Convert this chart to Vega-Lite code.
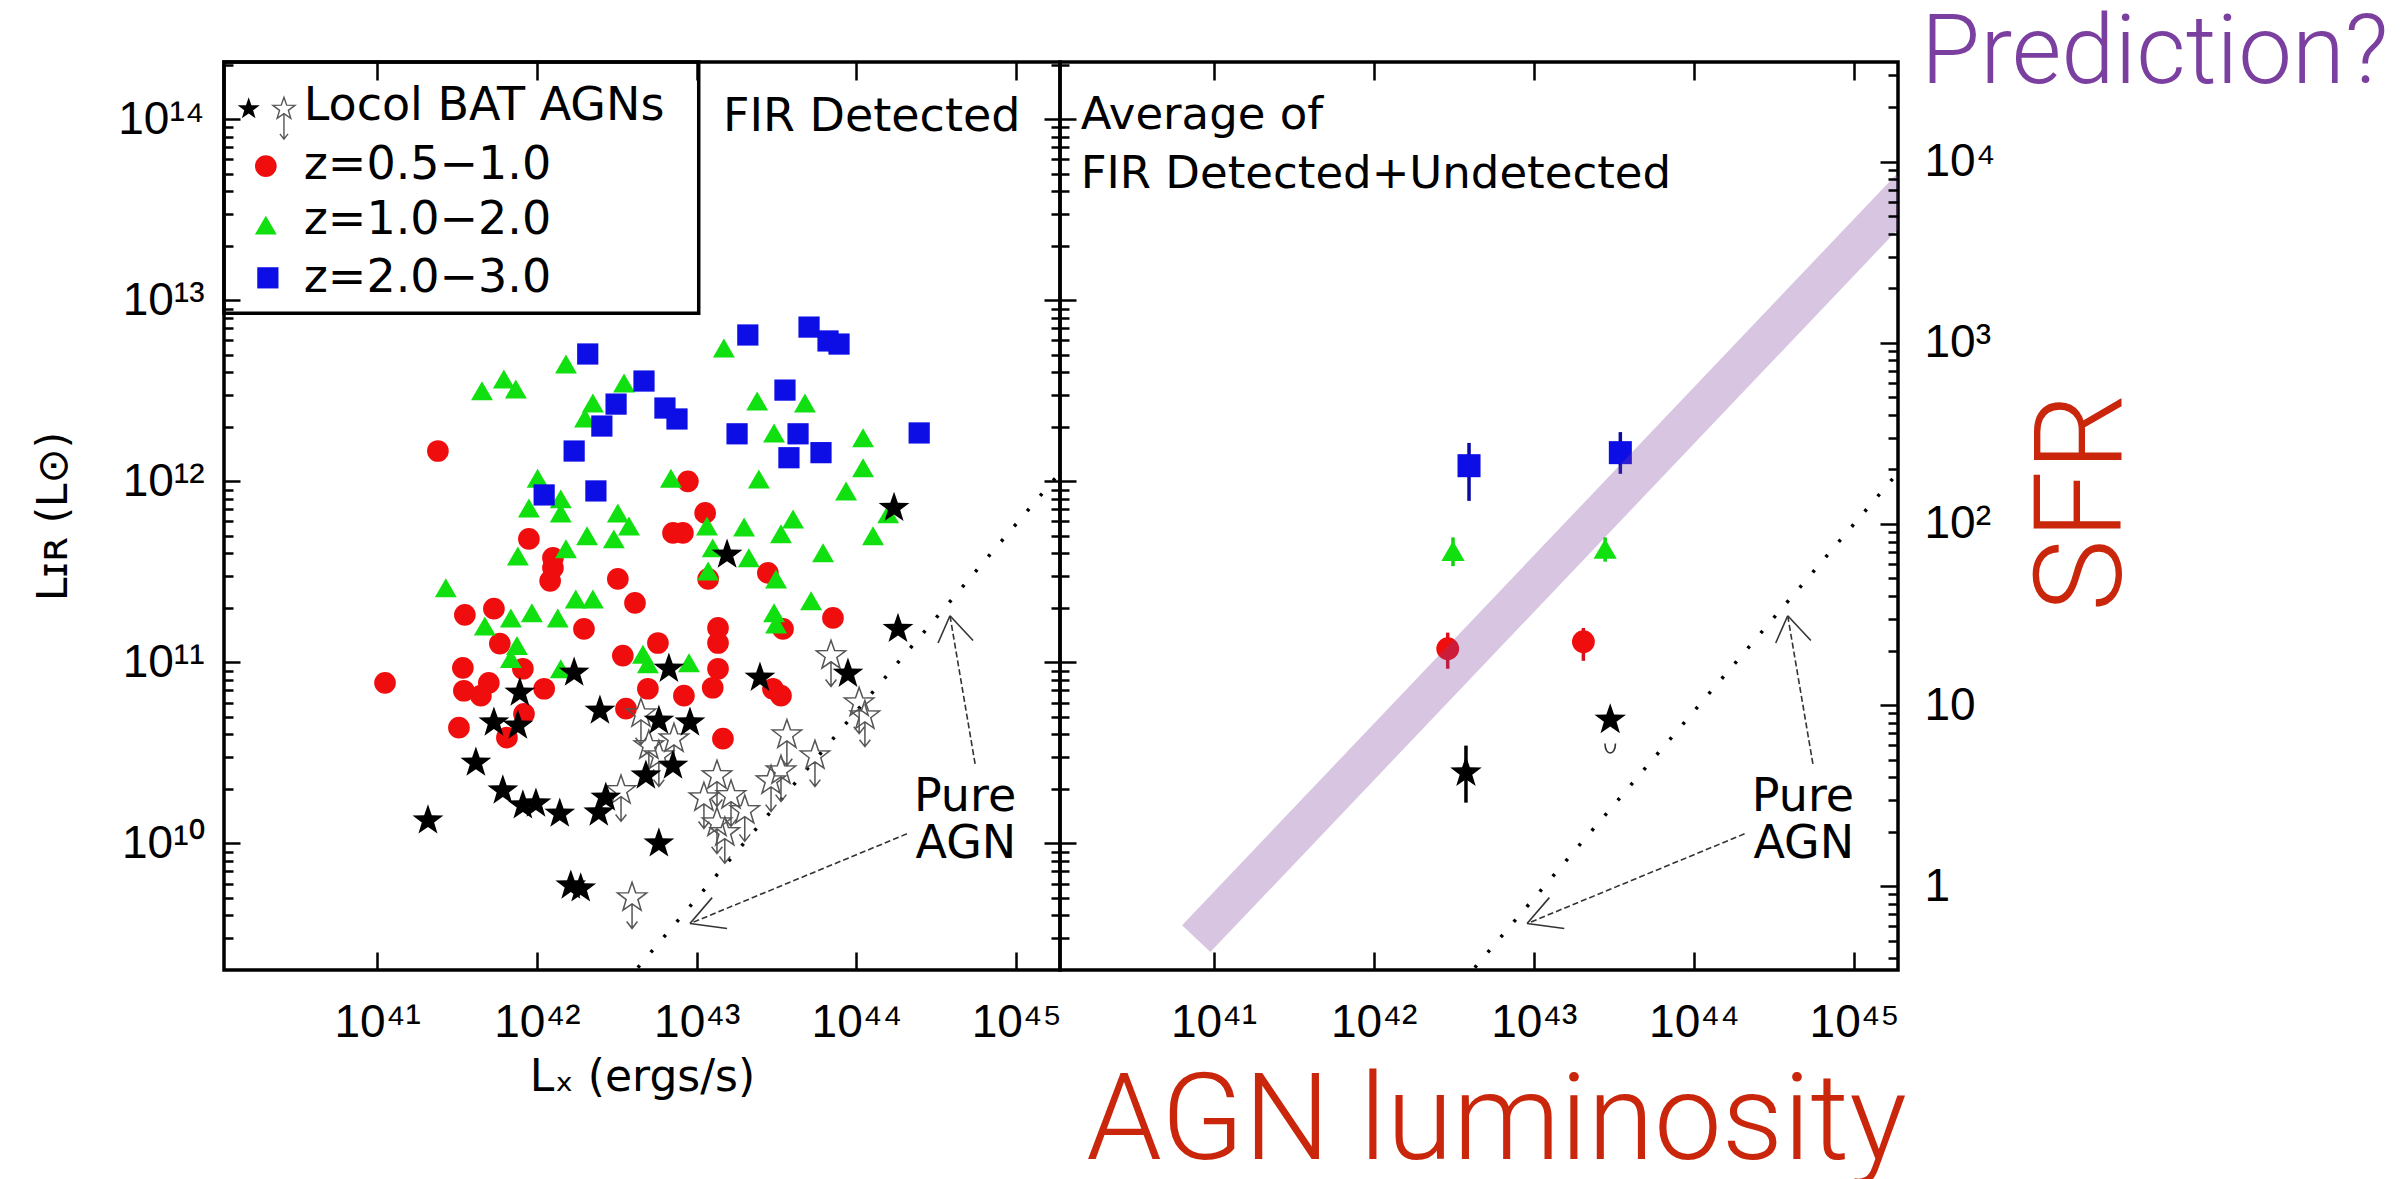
{
  "$schema": "https://vega.github.io/schema/vega-lite/v6.json",
  "background": "white",
  "padding": {"left": 31, "top": 4, "right": 0, "bottom": 0},
  "bounds": "flush",
  "spacing": 0,
  "config": {
    "view": {"stroke": "#000000", "strokeWidth": 3.5},
    "axis": {"domain": false, "grid": false, "tickColor": "#000000", "tickWidth": 2.5, "labelColor": "#000000", "labelFont": "Liberation Sans", "labelFontSize": 46, "titleFont": "DejaVu Sans", "titleFontSize": 44, "titleFontWeight": "normal", "titleColor": "#000000"},
    "text": {"font": "DejaVu Sans", "color": "#000000"},
    "concat": {"spacing": 0}
  },
  "datasets": {
    "pts": [
      {"grp": "z1", "Lx": 2.4e41, "LIR": 1.47e12}, {"grp": "z1", "Lx": 8.81e42, "LIR": 1.0e12}, {"grp": "z1", "Lx": 1.13e43, "LIR": 6.69e11},
      {"grp": "z1", "Lx": 7.11e42, "LIR": 5.19e11}, {"grp": "z1", "Lx": 8.2e42, "LIR": 5.19e11}, {"grp": "z1", "Lx": 8.91e41, "LIR": 4.81e11},
      {"grp": "z1", "Lx": 1.26e42, "LIR": 3.78e11}, {"grp": "z1", "Lx": 1.26e42, "LIR": 3.33e11}, {"grp": "z1", "Lx": 1.21e42, "LIR": 2.82e11},
      {"grp": "z1", "Lx": 3.21e42, "LIR": 2.89e11}, {"grp": "z1", "Lx": 2.79e43, "LIR": 3.12e11}, {"grp": "z1", "Lx": 1.18e43, "LIR": 2.89e11},
      {"grp": "z1", "Lx": 4.11e42, "LIR": 2.13e11}, {"grp": "z1", "Lx": 3.54e41, "LIR": 1.83e11}, {"grp": "z1", "Lx": 5.38e41, "LIR": 1.98e11},
      {"grp": "z1", "Lx": 1.97e42, "LIR": 1.53e11}, {"grp": "z1", "Lx": 5.86e41, "LIR": 1.27e11}, {"grp": "z1", "Lx": 3.44e41, "LIR": 9.33e10},
      {"grp": "z1", "Lx": 8.17e41, "LIR": 9.22e10}, {"grp": "z1", "Lx": 3.45e42, "LIR": 1.09e11}, {"grp": "z1", "Lx": 5.72e42, "LIR": 1.28e11},
      {"grp": "z1", "Lx": 1.12e41, "LIR": 7.71e10}, {"grp": "z1", "Lx": 3.49e41, "LIR": 6.97e10}, {"grp": "z1", "Lx": 4.46e41, "LIR": 6.55e10},
      {"grp": "z1", "Lx": 5.0e41, "LIR": 7.71e10}, {"grp": "z1", "Lx": 1.11e42, "LIR": 7.15e10}, {"grp": "z1", "Lx": 4.95e42, "LIR": 7.15e10},
      {"grp": "z1", "Lx": 3.61e42, "LIR": 5.55e10}, {"grp": "z1", "Lx": 8.3e41, "LIR": 5.2e10}, {"grp": "z1", "Lx": 3.25e41, "LIR": 4.36e10},
      {"grp": "z1", "Lx": 6.49e41, "LIR": 3.84e10}, {"grp": "z1", "Lx": 7.13e43, "LIR": 1.76e11}, {"grp": "z1", "Lx": 3.47e43, "LIR": 1.53e11},
      {"grp": "z1", "Lx": 1.36e43, "LIR": 1.55e11}, {"grp": "z1", "Lx": 1.36e43, "LIR": 1.28e11}, {"grp": "z1", "Lx": 1.36e43, "LIR": 9.22e10},
      {"grp": "z1", "Lx": 1.26e43, "LIR": 7.24e10}, {"grp": "z1", "Lx": 8.32e42, "LIR": 6.55e10}, {"grp": "z1", "Lx": 3.0e43, "LIR": 7.15e10},
      {"grp": "z1", "Lx": 3.37e43, "LIR": 6.55e10}, {"grp": "z1", "Lx": 1.46e43, "LIR": 3.79e10},
      {"grp": "z2", "Lx": 4.53e41, "LIR": 3.16e12}, {"grp": "z2", "Lx": 6.21e41, "LIR": 3.67e12}, {"grp": "z2", "Lx": 7.38e41, "LIR": 3.24e12},
      {"grp": "z2", "Lx": 1.52e42, "LIR": 4.45e12}, {"grp": "z2", "Lx": 2.24e42, "LIR": 2.71e12}, {"grp": "z2", "Lx": 2.0e42, "LIR": 2.24e12},
      {"grp": "z2", "Lx": 3.51e42, "LIR": 3.49e12}, {"grp": "z2", "Lx": 1.48e43, "LIR": 5.45e12}, {"grp": "z2", "Lx": 2.39e43, "LIR": 2.78e12},
      {"grp": "z2", "Lx": 4.76e43, "LIR": 2.71e12}, {"grp": "z2", "Lx": 3.05e43, "LIR": 1.85e12}, {"grp": "z2", "Lx": 1.1e44, "LIR": 1.74e12},
      {"grp": "z2", "Lx": 1.1e44, "LIR": 1.19e12}, {"grp": "z2", "Lx": 8.61e43, "LIR": 8.85e11}, {"grp": "z2", "Lx": 6.9e42, "LIR": 1.04e12},
      {"grp": "z2", "Lx": 1.01e42, "LIR": 1.04e12}, {"grp": "z2", "Lx": 2.45e43, "LIR": 1.03e12}, {"grp": "z2", "Lx": 8.91e41, "LIR": 7.13e11},
      {"grp": "z2", "Lx": 1.41e42, "LIR": 8.0e11}, {"grp": "z2", "Lx": 1.41e42, "LIR": 6.69e11}, {"grp": "z2", "Lx": 3.21e42, "LIR": 6.69e11},
      {"grp": "z2", "Lx": 3.77e42, "LIR": 5.67e11}, {"grp": "z2", "Lx": 2.06e42, "LIR": 5.0e11}, {"grp": "z2", "Lx": 3.03e42, "LIR": 4.81e11},
      {"grp": "z2", "Lx": 7.6e41, "LIR": 3.87e11}, {"grp": "z2", "Lx": 1.52e42, "LIR": 4.24e11}, {"grp": "z2", "Lx": 1.16e43, "LIR": 5.67e11},
      {"grp": "z2", "Lx": 1.98e43, "LIR": 5.6e11}, {"grp": "z2", "Lx": 4.01e43, "LIR": 6.2e11}, {"grp": "z2", "Lx": 3.37e43, "LIR": 5.13e11},
      {"grp": "z2", "Lx": 6.18e43, "LIR": 4.03e11}, {"grp": "z2", "Lx": 1.27e44, "LIR": 5.0e11}, {"grp": "z2", "Lx": 1.58e44, "LIR": 6.61e11},
      {"grp": "z2", "Lx": 1.26e43, "LIR": 4.29e11}, {"grp": "z2", "Lx": 1.18e43, "LIR": 3.2e11}, {"grp": "z2", "Lx": 2.12e43, "LIR": 3.78e11},
      {"grp": "z2", "Lx": 3.14e43, "LIR": 2.89e11}, {"grp": "z2", "Lx": 2.69e41, "LIR": 2.58e11}, {"grp": "z2", "Lx": 4.72e41, "LIR": 1.59e11},
      {"grp": "z2", "Lx": 6.87e41, "LIR": 1.76e11}, {"grp": "z2", "Lx": 9.3e41, "LIR": 1.88e11}, {"grp": "z2", "Lx": 1.35e42, "LIR": 1.76e11},
      {"grp": "z2", "Lx": 1.75e42, "LIR": 2.24e11}, {"grp": "z2", "Lx": 2.24e42, "LIR": 2.24e11}, {"grp": "z2", "Lx": 7.5e41, "LIR": 1.24e11},
      {"grp": "z2", "Lx": 6.87e41, "LIR": 1.05e11}, {"grp": "z2", "Lx": 1.41e42, "LIR": 9.22e10}, {"grp": "z2", "Lx": 4.61e42, "LIR": 1.11e11},
      {"grp": "z2", "Lx": 4.95e42, "LIR": 9.83e10}, {"grp": "z2", "Lx": 3.05e43, "LIR": 1.88e11}, {"grp": "z2", "Lx": 5.2e43, "LIR": 2.19e11},
      {"grp": "z2", "Lx": 3.14e43, "LIR": 1.63e11}, {"grp": "z2", "Lx": 8.95e42, "LIR": 9.95e10},
      {"grp": "z3", "Lx": 2.08e42, "LIR": 5.05e12}, {"grp": "z3", "Lx": 4.68e42, "LIR": 3.58e12}, {"grp": "z3", "Lx": 3.13e42, "LIR": 2.67e12},
      {"grp": "z3", "Lx": 2.55e42, "LIR": 2.02e12}, {"grp": "z3", "Lx": 1.71e42, "LIR": 1.47e12}, {"grp": "z3", "Lx": 1.11e42, "LIR": 8.41e11},
      {"grp": "z3", "Lx": 2.34e42, "LIR": 8.85e11}, {"grp": "z3", "Lx": 6.33e42, "LIR": 2.54e12}, {"grp": "z3", "Lx": 7.53e42, "LIR": 2.21e12},
      {"grp": "z3", "Lx": 2.09e43, "LIR": 6.43e12}, {"grp": "z3", "Lx": 5.05e43, "LIR": 7.11e12}, {"grp": "z3", "Lx": 6.64e43, "LIR": 5.96e12},
      {"grp": "z3", "Lx": 7.78e43, "LIR": 5.73e12}, {"grp": "z3", "Lx": 3.57e43, "LIR": 3.19e12}, {"grp": "z3", "Lx": 1.79e43, "LIR": 1.83e12},
      {"grp": "z3", "Lx": 4.31e43, "LIR": 1.83e12}, {"grp": "z3", "Lx": 3.78e43, "LIR": 1.35e12}, {"grp": "z3", "Lx": 6.0e43, "LIR": 1.44e12},
      {"grp": "z3", "Lx": 2.47e44, "LIR": 1.85e12},
      {"grp": "bat", "Lx": 1.72e44, "LIR": 7.13e11}, {"grp": "bat", "Lx": 1.55e43, "LIR": 3.93e11}, {"grp": "bat", "Lx": 1.71e42, "LIR": 8.77e10},
      {"grp": "bat", "Lx": 7.82e41, "LIR": 6.8e10}, {"grp": "bat", "Lx": 5.38e41, "LIR": 4.65e10}, {"grp": "bat", "Lx": 7.6e41, "LIR": 4.47e10},
      {"grp": "bat", "Lx": 2.48e42, "LIR": 5.41e10}, {"grp": "bat", "Lx": 4.15e41, "LIR": 2.79e10}, {"grp": "bat", "Lx": 6.12e41, "LIR": 1.96e10},
      {"grp": "bat", "Lx": 8.17e41, "LIR": 1.62e10}, {"grp": "bat", "Lx": 9.86e41, "LIR": 1.66e10}, {"grp": "bat", "Lx": 1.39e42, "LIR": 1.46e10},
      {"grp": "bat", "Lx": 2.44e42, "LIR": 1.48e10}, {"grp": "bat", "Lx": 2.7e42, "LIR": 1.79e10}, {"grp": "bat", "Lx": 4.81e42, "LIR": 2.37e10},
      {"grp": "bat", "Lx": 7.11e42, "LIR": 2.69e10}, {"grp": "bat", "Lx": 5.8e42, "LIR": 1.0e10}, {"grp": "bat", "Lx": 2.08e41, "LIR": 1.34e10},
      {"grp": "bat", "Lx": 1.63e42, "LIR": 5.85e9}, {"grp": "bat", "Lx": 1.88e42, "LIR": 5.64e9}, {"grp": "bat", "Lx": 6.7e42, "LIR": 9.22e10},
      {"grp": "bat", "Lx": 2.49e43, "LIR": 8.22e10}, {"grp": "bat", "Lx": 8.85e43, "LIR": 8.65e10}, {"grp": "bat", "Lx": 1.82e44, "LIR": 1.53e11},
      {"grp": "bat", "Lx": 5.8e42, "LIR": 4.76e10}, {"grp": "bat", "Lx": 9.08e42, "LIR": 4.65e10},
      {"grp": "batul", "Lx": 3.94e42, "LIR": 5.02e9}, {"grp": "batul", "Lx": 5.02e42, "LIR": 3.47e10}, {"grp": "batul", "Lx": 5.8e42, "LIR": 3.05e10},
      {"grp": "batul", "Lx": 3.36e42, "LIR": 1.96e10}, {"grp": "batul", "Lx": 7.21e42, "LIR": 3.79e10}, {"grp": "batul", "Lx": 1.34e43, "LIR": 2.37e10},
      {"grp": "batul", "Lx": 1.11e43, "LIR": 1.79e10}, {"grp": "batul", "Lx": 1.64e43, "LIR": 1.84e10}, {"grp": "batul", "Lx": 1.34e43, "LIR": 1.3e10},
      {"grp": "batul", "Lx": 2.0e43, "LIR": 1.52e10}, {"grp": "batul", "Lx": 1.5e43, "LIR": 1.15e10}, {"grp": "batul", "Lx": 3.67e43, "LIR": 3.98e10},
      {"grp": "batul", "Lx": 5.5e43, "LIR": 3.05e10}, {"grp": "batul", "Lx": 3.37e43, "LIR": 2.52e10}, {"grp": "batul", "Lx": 2.92e43, "LIR": 2.22e10},
      {"grp": "batul", "Lx": 6.93e43, "LIR": 1.09e11}, {"grp": "batul", "Lx": 1.04e44, "LIR": 5.98e10}, {"grp": "batul", "Lx": 1.13e44, "LIR": 5.07e10},
      {"grp": "batul", "Lx": 4.48e42, "LIR": 5.2e10}
    ],
    "avg": [
      {"grp": "z3", "Lx": 3.94e42, "LIR": 1.22e12, "lo": 7.8e11, "hi": 1.63e12},
      {"grp": "z3", "Lx": 3.47e43, "LIR": 1.44e12, "lo": 1.1e12, "hi": 1.87e12},
      {"grp": "z2", "Lx": 3.13e42, "LIR": 4.13e11, "lo": 3.4e11, "hi": 4.9e11},
      {"grp": "z2", "Lx": 2.79e43, "LIR": 4.24e11, "lo": 3.6e11, "hi": 4.9e11},
      {"grp": "z1", "Lx": 2.9e42, "LIR": 1.19e11, "lo": 9.22e10, "hi": 1.46e11},
      {"grp": "z1", "Lx": 2.04e43, "LIR": 1.3e11, "lo": 1.02e11, "hi": 1.55e11},
      {"grp": "bat", "Lx": 3.77e42, "LIR": 2.46e10, "lo": 1.68e10, "hi": 3.47e10},
      {"grp": "bat", "Lx": 3.0e43, "LIR": 4.82e10}
    ],
    "ul": [{"Lx": 3.0e43, "LIR": 3.33e10}],
    "pure": [{"Lx": 3.55e42, "LIR": 1.70e9}, {"Lx": 2.24e45, "LIR": 1.34e12}],
    "band": [{"Lx": 7.8e40, "LIR": 2.98e9}, {"Lx": 2.24e45, "LIR": 4.16e13}],
    "arrows": [
      {"part": "shaft", "Lx": 5.53e44, "LIR": 2.75e10, "Lx2": 3.85e44, "LIR2": 1.81e11},
      {"part": "head", "Lx": 3.85e44, "LIR": 1.81e11, "Lx2": 3.24e44, "LIR2": 1.28e11},
      {"part": "head", "Lx": 3.85e44, "LIR": 1.81e11, "Lx2": 5.37e44, "LIR2": 1.32e11},
      {"part": "shaft", "Lx": 2.07e44, "LIR": 1.13e10, "Lx2": 9.08e42, "LIR2": 3.61e9},
      {"part": "head", "Lx": 9.08e42, "LIR": 3.61e9, "Lx2": 1.55e43, "LIR2": 3.39e9},
      {"part": "head", "Lx": 9.08e42, "LIR": 3.61e9, "Lx2": 1.25e43, "LIR2": 5.02e9}
    ],
    "pureText": [{"t": "Pure", "Lx": 1e45, "LIR": 1.52e10}, {"t": "AGN", "Lx": 1e45, "LIR": 8.36e9}],
    "legendBox": [{"Lx": 1.1e40, "LIR": 8.49e12, "Lx2": 1.03e43, "LIR2": 2.07e14}],
    "legendSym": [
      {"grp": "bat", "Lx": 1.57e40, "LIR": 1.14e14}, {"grp": "batul", "Lx": 2.61e40, "LIR": 1.14e14},
      {"grp": "z1", "Lx": 2.01e40, "LIR": 5.51e13}, {"grp": "z2", "Lx": 2.01e40, "LIR": 2.6e13}, {"grp": "z3", "Lx": 2.07e40, "LIR": 1.33e13}
    ],
    "leftNotes": [
      {"t": "Locol BAT AGNs", "Lx": 3.47e40, "LIR": 9.87e13}, {"t": "z=0.5−1.0", "Lx": 3.47e40, "LIR": 4.67e13},
      {"t": "z=1.0−2.0", "Lx": 3.47e40, "LIR": 2.32e13}, {"t": "z=2.0−3.0", "Lx": 3.47e40, "LIR": 1.11e13},
      {"t": "FIR Detected", "Lx": 1.46e43, "LIR": 8.59e13}
    ],
    "rightNotes": [
      {"t": "Average of", "Lx": 1.48e40, "LIR": 8.81e13}, {"t": "FIR Detected+Undetected", "Lx": 1.48e40, "LIR": 4.16e13}
    ],
    "pred": [{"t": "Prediction?", "Lx": 2.62e45, "LIR": 1.58e14}]
  },
  "hconcat": [
    {
      "width": 836,
      "height": 908,
      "resolve": {"axis": {"x": "independent", "y": "independent"}},
      "layer": [
        {
          "data": {"name": "pure"},
          "mark": {"type": "line", "color": "#000000", "strokeWidth": 3.5, "strokeDash": [3, 17], "clip": true},
          "encoding": {
            "x": {"field": "Lx", "type": "quantitative", "scale": {"type": "log", "domain": [1.1e40, 1.88e45]},
                  "axis": {"orient": "bottom", "values": [1e41, 1e42, 1e43, 1e44, 1e45], "ticks": false, "labelPadding": 66, "labelBaseline": "alphabetic", "labelFlush": false, "labelOverlap": false,
                           "labelExpr": "datum.value < 3e41 ? '10⁴¹' : datum.value < 3e42 ? '10⁴²' : datum.value < 3e43 ? '10⁴³' : datum.value < 3e44 ? '10⁴⁴' : '10⁴⁵'",
                           "title": "Lₓ (ergs/s)", "titlePadding": 10}},
            "y": {"field": "LIR", "type": "quantitative", "scale": {"type": "log", "domain": [2.0e9, 2.07e14]},
                  "axis": {"orient": "left", "values": [1e10, 1e11, 1e12, 1e13, 1e14], "ticks": false, "labelPadding": 20, "labelFlush": false, "labelOverlap": false,
                           "labelExpr": "datum.value < 3e10 ? '10¹⁰' : datum.value < 3e11 ? '10¹¹' : datum.value < 3e12 ? '10¹²' : datum.value < 3e13 ? '10¹³' : '10¹⁴'",
                           "title": "Lɪʀ (L⊙)", "titleFontSize": 42, "titlePadding": 42}}
          }
        },
        {
          "data": {"name": "arrows"},
          "transform": [{"filter": "datum.part == 'shaft'"}],
          "mark": {"type": "rule", "color": "#333333", "strokeWidth": 1.6, "strokeDash": [6, 3]},
          "encoding": {
            "x": {"field": "Lx", "type": "quantitative", "scale": {"type": "log", "domain": [1.1e40, 1.88e45]},
                  "axis": {"orient": "bottom", "values": [1e41, 1e42, 1e43, 1e44, 1e45], "labels": false, "tickSize": -18, "title": null, "zindex": 1}},
            "y": {"field": "LIR", "type": "quantitative", "scale": {"type": "log", "domain": [2.0e9, 2.07e14]},
                  "axis": {"orient": "left", "values": [1e10, 1e11, 1e12, 1e13, 1e14], "labels": false, "tickSize": -16, "title": null, "zindex": 1}},
            "x2": {"field": "Lx2"},
            "y2": {"field": "LIR2"}
          }
        },
        {
          "data": {"name": "arrows"},
          "transform": [{"filter": "datum.part == 'head'"}],
          "mark": {"type": "rule", "color": "#333333", "strokeWidth": 1.6},
          "encoding": {
            "x": {"field": "Lx", "type": "quantitative", "scale": {"type": "log", "domain": [1.1e40, 1.88e45]},
                  "axis": {"orient": "top", "values": [1e41, 1e42, 1e43, 1e44, 1e45], "labels": false, "tickSize": -18, "title": null, "zindex": 1}},
            "y": {"field": "LIR", "type": "quantitative", "scale": {"type": "log", "domain": [2.0e9, 2.07e14]},
                  "axis": {"orient": "left", "values": [3e9, 4e9, 5e9, 6e9, 7e9, 8e9, 9e9, 2e10, 3e10, 4e10, 5e10, 6e10, 7e10, 8e10, 9e10, 2e11, 3e11, 4e11, 5e11, 6e11, 7e11, 8e11, 9e11, 2e12, 3e12, 4e12, 5e12, 6e12, 7e12, 8e12, 9e12, 2e13, 3e13, 4e13, 5e13, 6e13, 7e13, 8e13, 9e13, 2e14], "labels": false, "tickSize": -9, "title": null, "zindex": 1}},
            "x2": {"field": "Lx2"},
            "y2": {"field": "LIR2"}
          }
        },
        {
          "data": {"name": "pureText"},
          "mark": {"type": "text", "align": "right", "baseline": "alphabetic", "fontSize": 46},
          "encoding": {
            "x": {"field": "Lx", "type": "quantitative", "scale": {"type": "log", "domain": [1.1e40, 1.88e45]}, "axis": null},
            "y": {"field": "LIR", "type": "quantitative", "scale": {"type": "log", "domain": [2.0e9, 2.07e14]},
                  "axis": {"orient": "right", "values": [1e10, 1e11, 1e12, 1e13, 1e14], "labels": false, "tickSize": -16, "title": null, "zindex": 1}},
            "text": {"field": "t"}
          }
        },
        {
          "data": {"name": "legendBox"},
          "mark": {"type": "rect", "filled": false, "color": "#000000", "strokeWidth": 3.5},
          "encoding": {
            "x": {"field": "Lx", "type": "quantitative", "scale": {"type": "log", "domain": [1.1e40, 1.88e45]}, "axis": null},
            "y": {"field": "LIR", "type": "quantitative", "scale": {"type": "log", "domain": [2.0e9, 2.07e14]},
                  "axis": {"orient": "right", "values": [3e9, 4e9, 5e9, 6e9, 7e9, 8e9, 9e9, 2e10, 3e10, 4e10, 5e10, 6e10, 7e10, 8e10, 9e10, 2e11, 3e11, 4e11, 5e11, 6e11, 7e11, 8e11, 9e11, 2e12, 3e12, 4e12, 5e12, 6e12, 7e12, 8e12, 9e12, 2e13, 3e13, 4e13, 5e13, 6e13, 7e13, 8e13, 9e13, 2e14], "labels": false, "tickSize": -9, "title": null, "zindex": 1}},
            "x2": {"field": "Lx2"},
            "y2": {"field": "LIR2"}
          }
        },
        {
          "data": {"name": "pts"},
          "transform": [{"filter": "datum.grp == 'z1'"}],
          "mark": {"type": "point", "shape": "circle", "filled": true, "color": "#f00d0d", "size": 470, "opacity": 1},
          "encoding": {
            "x": {"field": "Lx", "type": "quantitative", "scale": {"type": "log", "domain": [1.1e40, 1.88e45]}, "axis": null},
            "y": {"field": "LIR", "type": "quantitative", "scale": {"type": "log", "domain": [2.0e9, 2.07e14]}, "axis": null}
          }
        },
        {
          "data": {"name": "pts"},
          "transform": [{"filter": "datum.grp == 'z2'"}],
          "mark": {"type": "point", "shape": "triangle-up", "filled": true, "color": "#10e010", "size": 480, "opacity": 1},
          "encoding": {
            "x": {"field": "Lx", "type": "quantitative", "scale": {"type": "log", "domain": [1.1e40, 1.88e45]}, "axis": null},
            "y": {"field": "LIR", "type": "quantitative", "scale": {"type": "log", "domain": [2.0e9, 2.07e14]}, "axis": null}
          }
        },
        {
          "data": {"name": "pts"},
          "transform": [{"filter": "datum.grp == 'z3'"}],
          "mark": {"type": "point", "shape": "square", "filled": true, "color": "#0d0de6", "size": 450, "opacity": 1},
          "encoding": {
            "x": {"field": "Lx", "type": "quantitative", "scale": {"type": "log", "domain": [1.1e40, 1.88e45]}, "axis": null},
            "y": {"field": "LIR", "type": "quantitative", "scale": {"type": "log", "domain": [2.0e9, 2.07e14]}, "axis": null}
          }
        },
        {
          "data": {"name": "pts"},
          "transform": [{"filter": "datum.grp == 'batul'"}],
          "mark": {"type": "point", "shape": "M0,-1L0.235,-0.324L0.951,-0.309L0.38,0.124L0.588,0.809L0,0.4L-0.588,0.809L-0.38,0.124L-0.951,-0.309L-0.235,-0.324ZM0,0.4L0,2M-0.35,1.55L0,2L0.35,1.55", "filled": false, "color": "#555555", "strokeWidth": 1.5, "size": 950, "opacity": 1},
          "encoding": {
            "x": {"field": "Lx", "type": "quantitative", "scale": {"type": "log", "domain": [1.1e40, 1.88e45]}, "axis": null},
            "y": {"field": "LIR", "type": "quantitative", "scale": {"type": "log", "domain": [2.0e9, 2.07e14]}, "axis": null}
          }
        },
        {
          "data": {"name": "pts"},
          "transform": [{"filter": "datum.grp == 'bat'"}],
          "mark": {"type": "point", "shape": "M0,-1L0.235,-0.324L0.951,-0.309L0.38,0.124L0.588,0.809L0,0.4L-0.588,0.809L-0.38,0.124L-0.951,-0.309L-0.235,-0.324Z", "filled": true, "color": "#000000", "size": 1050, "opacity": 1},
          "encoding": {
            "x": {"field": "Lx", "type": "quantitative", "scale": {"type": "log", "domain": [1.1e40, 1.88e45]}, "axis": null},
            "y": {"field": "LIR", "type": "quantitative", "scale": {"type": "log", "domain": [2.0e9, 2.07e14]}, "axis": null}
          }
        },
        {
          "data": {"name": "legendSym"},
          "transform": [{"filter": "datum.grp == 'bat'"}],
          "mark": {"type": "point", "shape": "M0,-1L0.235,-0.324L0.951,-0.309L0.38,0.124L0.588,0.809L0,0.4L-0.588,0.809L-0.38,0.124L-0.951,-0.309L-0.235,-0.324Z", "filled": true, "color": "#000000", "size": 540, "opacity": 1},
          "encoding": {
            "x": {"field": "Lx", "type": "quantitative", "scale": {"type": "log", "domain": [1.1e40, 1.88e45]}, "axis": null},
            "y": {"field": "LIR", "type": "quantitative", "scale": {"type": "log", "domain": [2.0e9, 2.07e14]}, "axis": null}
          }
        },
        {
          "data": {"name": "legendSym"},
          "transform": [{"filter": "datum.grp == 'batul'"}],
          "mark": {"type": "point", "shape": "M0,-1L0.235,-0.324L0.951,-0.309L0.38,0.124L0.588,0.809L0,0.4L-0.588,0.809L-0.38,0.124L-0.951,-0.309L-0.235,-0.324ZM0,0.4L0,2.6M-0.35,2.15L0,2.6L0.35,2.15", "filled": false, "color": "#555555", "strokeWidth": 1.4, "size": 540, "opacity": 1},
          "encoding": {
            "x": {"field": "Lx", "type": "quantitative", "scale": {"type": "log", "domain": [1.1e40, 1.88e45]}, "axis": null},
            "y": {"field": "LIR", "type": "quantitative", "scale": {"type": "log", "domain": [2.0e9, 2.07e14]}, "axis": null}
          }
        },
        {
          "data": {"name": "legendSym"},
          "transform": [{"filter": "datum.grp == 'z1'"}],
          "mark": {"type": "point", "shape": "circle", "filled": true, "color": "#f00d0d", "size": 470, "opacity": 1},
          "encoding": {
            "x": {"field": "Lx", "type": "quantitative", "scale": {"type": "log", "domain": [1.1e40, 1.88e45]}, "axis": null},
            "y": {"field": "LIR", "type": "quantitative", "scale": {"type": "log", "domain": [2.0e9, 2.07e14]}, "axis": null}
          }
        },
        {
          "data": {"name": "legendSym"},
          "transform": [{"filter": "datum.grp == 'z2'"}],
          "mark": {"type": "point", "shape": "triangle-up", "filled": true, "color": "#10e010", "size": 480, "opacity": 1},
          "encoding": {
            "x": {"field": "Lx", "type": "quantitative", "scale": {"type": "log", "domain": [1.1e40, 1.88e45]}, "axis": null},
            "y": {"field": "LIR", "type": "quantitative", "scale": {"type": "log", "domain": [2.0e9, 2.07e14]}, "axis": null}
          }
        },
        {
          "data": {"name": "legendSym"},
          "transform": [{"filter": "datum.grp == 'z3'"}],
          "mark": {"type": "point", "shape": "square", "filled": true, "color": "#0d0de6", "size": 450, "opacity": 1},
          "encoding": {
            "x": {"field": "Lx", "type": "quantitative", "scale": {"type": "log", "domain": [1.1e40, 1.88e45]}, "axis": null},
            "y": {"field": "LIR", "type": "quantitative", "scale": {"type": "log", "domain": [2.0e9, 2.07e14]}, "axis": null}
          }
        },
        {
          "data": {"name": "leftNotes"},
          "mark": {"type": "text", "align": "left", "baseline": "alphabetic", "fontSize": 46},
          "encoding": {
            "x": {"field": "Lx", "type": "quantitative", "scale": {"type": "log", "domain": [1.1e40, 1.88e45]}, "axis": null},
            "y": {"field": "LIR", "type": "quantitative", "scale": {"type": "log", "domain": [2.0e9, 2.07e14]}, "axis": null},
            "text": {"field": "t"}
          }
        }
      ]
    },
    {
      "width": 838,
      "height": 908,
      "resolve": {"axis": {"x": "independent", "y": "independent"}},
      "layer": [
        {
          "data": {"name": "pure"},
          "mark": {"type": "line", "color": "#000000", "strokeWidth": 3.5, "strokeDash": [3, 17], "clip": true},
          "encoding": {
            "x": {"field": "Lx", "type": "quantitative", "scale": {"type": "log", "domain": [1.1e40, 1.88e45]},
                  "axis": {"orient": "bottom", "values": [1e41, 1e42, 1e43, 1e44, 1e45], "ticks": false, "labelPadding": 66, "labelBaseline": "alphabetic", "labelFlush": false, "labelOverlap": false,
                           "labelExpr": "datum.value < 3e41 ? '10⁴¹' : datum.value < 3e42 ? '10⁴²' : datum.value < 3e43 ? '10⁴³' : datum.value < 3e44 ? '10⁴⁴' : '10⁴⁵'",
                           "title": "AGN luminosity", "titleFont": "Roboto", "titleFontSize": 121, "titleFontWeight": 300, "titleColor": "#c9260c", "titlePadding": 17, "titleX": 436}},
            "y": {"field": "LIR", "type": "quantitative", "scale": {"type": "log", "domain": [2.0e9, 2.07e14]},
                  "axis": {"orient": "left", "values": [1e10, 1e11, 1e12, 1e13, 1e14], "labels": false, "tickSize": -16, "title": null, "zindex": 1}}
          }
        },
        {
          "data": {"name": "arrows"},
          "transform": [{"filter": "datum.part == 'shaft'"}],
          "mark": {"type": "rule", "color": "#333333", "strokeWidth": 1.6, "strokeDash": [6, 3]},
          "encoding": {
            "x": {"field": "Lx", "type": "quantitative", "scale": {"type": "log", "domain": [1.1e40, 1.88e45]},
                  "axis": {"orient": "bottom", "values": [1e41, 1e42, 1e43, 1e44, 1e45], "labels": false, "tickSize": -18, "title": null, "zindex": 1}},
            "y": {"field": "LIR", "type": "quantitative", "scale": {"type": "log", "domain": [2.0e9, 2.07e14]},
                  "axis": {"orient": "left", "values": [3e9, 4e9, 5e9, 6e9, 7e9, 8e9, 9e9, 2e10, 3e10, 4e10, 5e10, 6e10, 7e10, 8e10, 9e10, 2e11, 3e11, 4e11, 5e11, 6e11, 7e11, 8e11, 9e11, 2e12, 3e12, 4e12, 5e12, 6e12, 7e12, 8e12, 9e12, 2e13, 3e13, 4e13, 5e13, 6e13, 7e13, 8e13, 9e13, 2e14], "labels": false, "tickSize": -9, "title": null, "zindex": 1}},
            "x2": {"field": "Lx2"},
            "y2": {"field": "LIR2"}
          }
        },
        {
          "data": {"name": "arrows"},
          "transform": [{"filter": "datum.part == 'head'"}],
          "mark": {"type": "rule", "color": "#333333", "strokeWidth": 1.6},
          "encoding": {
            "x": {"field": "Lx", "type": "quantitative", "scale": {"type": "log", "domain": [1.1e40, 1.88e45]},
                  "axis": {"orient": "top", "values": [1e41, 1e42, 1e43, 1e44, 1e45], "labels": false, "tickSize": -18, "title": null, "zindex": 1}},
            "y": {"field": "LIR", "type": "quantitative", "scale": {"type": "log", "domain": [2.0e9, 2.07e14]},
                  "axis": {"orient": "right", "values": [5.814e9, 5.814e10, 5.814e11, 5.814e12, 5.814e13], "ticks": false, "labelPadding": 26, "labelFlush": false, "labelOverlap": false,
                           "labelExpr": "datum.value < 3e10 ? '1' : datum.value < 3e11 ? '10' : datum.value < 3e12 ? '10²' : datum.value < 3e13 ? '10³' : '10⁴'",
                           "title": "SFR", "titleAngle": 270, "titleBaseline": "top", "titleFont": "Roboto", "titleFontSize": 122, "titleFontWeight": 300, "titleColor": "#c9260c", "titlePadding": 30, "titleY": 440}},
            "x2": {"field": "Lx2"},
            "y2": {"field": "LIR2"}
          }
        },
        {
          "data": {"name": "pureText"},
          "mark": {"type": "text", "align": "right", "baseline": "alphabetic", "fontSize": 46},
          "encoding": {
            "x": {"field": "Lx", "type": "quantitative", "scale": {"type": "log", "domain": [1.1e40, 1.88e45]}, "axis": null},
            "y": {"field": "LIR", "type": "quantitative", "scale": {"type": "log", "domain": [2.0e9, 2.07e14]},
                  "axis": {"orient": "right", "values": [5.814e9, 5.814e10, 5.814e11, 5.814e12, 5.814e13], "labels": false, "tickSize": -18, "title": null, "zindex": 1}},
            "text": {"field": "t"}
          }
        },
        {
          "data": {"name": "avg"},
          "transform": [{"filter": "isValid(datum.lo)"}],
          "mark": {"type": "rule", "strokeWidth": 3.5},
          "encoding": {
            "x": {"field": "Lx", "type": "quantitative", "scale": {"type": "log", "domain": [1.1e40, 1.88e45]}, "axis": null},
            "y": {"field": "lo", "type": "quantitative", "scale": {"type": "log", "domain": [2.0e9, 2.07e14]},
                  "axis": {"orient": "right", "values": [2.326e9, 2.907e9, 3.488e9, 4.07e9, 4.651e9, 5.233e9, 1.163e10, 1.744e10, 2.326e10, 2.907e10, 3.488e10, 4.07e10, 4.651e10, 5.233e10, 1.163e11, 1.744e11, 2.326e11, 2.907e11, 3.488e11, 4.07e11, 4.651e11, 5.233e11, 1.163e12, 1.744e12, 2.326e12, 2.907e12, 3.488e12, 4.07e12, 4.651e12, 5.233e12, 1.163e13, 1.744e13, 2.326e13, 2.907e13, 3.488e13, 4.07e13, 4.651e13, 5.233e13, 1.163e14, 1.744e14], "labels": false, "tickSize": -10, "title": null, "zindex": 1}},
            "y2": {"field": "hi"},
            "color": {"field": "grp", "type": "nominal", "scale": {"domain": ["z3", "z2", "z1", "bat"], "range": ["#0a0aa0", "#10d010", "#d81020", "#000000"]}, "legend": null}
          }
        },
        {
          "data": {"name": "avg"},
          "transform": [{"filter": "datum.grp == 'z1'"}],
          "mark": {"type": "point", "shape": "circle", "filled": true, "color": "#f00d0d", "size": 520, "opacity": 1},
          "encoding": {
            "x": {"field": "Lx", "type": "quantitative", "scale": {"type": "log", "domain": [1.1e40, 1.88e45]}, "axis": null},
            "y": {"field": "LIR", "type": "quantitative", "scale": {"type": "log", "domain": [2.0e9, 2.07e14]}, "axis": null}
          }
        },
        {
          "data": {"name": "avg"},
          "transform": [{"filter": "datum.grp == 'z2'"}],
          "mark": {"type": "point", "shape": "triangle-up", "filled": true, "color": "#10e010", "size": 540, "opacity": 1},
          "encoding": {
            "x": {"field": "Lx", "type": "quantitative", "scale": {"type": "log", "domain": [1.1e40, 1.88e45]}, "axis": null},
            "y": {"field": "LIR", "type": "quantitative", "scale": {"type": "log", "domain": [2.0e9, 2.07e14]}, "axis": null}
          }
        },
        {
          "data": {"name": "avg"},
          "transform": [{"filter": "datum.grp == 'z3'"}],
          "mark": {"type": "point", "shape": "square", "filled": true, "color": "#0d0de6", "size": 530, "opacity": 1},
          "encoding": {
            "x": {"field": "Lx", "type": "quantitative", "scale": {"type": "log", "domain": [1.1e40, 1.88e45]}, "axis": null},
            "y": {"field": "LIR", "type": "quantitative", "scale": {"type": "log", "domain": [2.0e9, 2.07e14]}, "axis": null}
          }
        },
        {
          "data": {"name": "avg"},
          "transform": [{"filter": "datum.grp == 'bat'"}],
          "mark": {"type": "point", "shape": "M0,-1L0.235,-0.324L0.951,-0.309L0.38,0.124L0.588,0.809L0,0.4L-0.588,0.809L-0.38,0.124L-0.951,-0.309L-0.235,-0.324Z", "filled": true, "color": "#000000", "size": 1100, "opacity": 1},
          "encoding": {
            "x": {"field": "Lx", "type": "quantitative", "scale": {"type": "log", "domain": [1.1e40, 1.88e45]}, "axis": null},
            "y": {"field": "LIR", "type": "quantitative", "scale": {"type": "log", "domain": [2.0e9, 2.07e14]}, "axis": null}
          }
        },
        {
          "data": {"name": "ul"},
          "mark": {"type": "point", "shape": "M-1,-1C-1,1.4 1,1.4 1,-1", "filled": false, "color": "#333333", "strokeWidth": 1.6, "size": 110, "opacity": 1},
          "encoding": {
            "x": {"field": "Lx", "type": "quantitative", "scale": {"type": "log", "domain": [1.1e40, 1.88e45]}, "axis": null},
            "y": {"field": "LIR", "type": "quantitative", "scale": {"type": "log", "domain": [2.0e9, 2.07e14]}, "axis": null}
          }
        },
        {
          "data": {"name": "band"},
          "mark": {"type": "line", "color": "#7b3fa0", "opacity": 0.3, "strokeWidth": 39, "strokeCap": "butt", "clip": true},
          "encoding": {
            "x": {"field": "Lx", "type": "quantitative", "scale": {"type": "log", "domain": [1.1e40, 1.88e45]}, "axis": null},
            "y": {"field": "LIR", "type": "quantitative", "scale": {"type": "log", "domain": [2.0e9, 2.07e14]}, "axis": null}
          }
        },
        {
          "data": {"name": "rightNotes"},
          "mark": {"type": "text", "align": "left", "baseline": "alphabetic", "fontSize": 45},
          "encoding": {
            "x": {"field": "Lx", "type": "quantitative", "scale": {"type": "log", "domain": [1.1e40, 1.88e45]}, "axis": null},
            "y": {"field": "LIR", "type": "quantitative", "scale": {"type": "log", "domain": [2.0e9, 2.07e14]}, "axis": null},
            "text": {"field": "t"}
          }
        },
        {
          "data": {"name": "pred"},
          "mark": {"type": "text", "align": "left", "baseline": "alphabetic", "font": "Roboto", "fontWeight": 300, "fontSize": 96, "color": "#7b3fa0"},
          "encoding": {
            "x": {"field": "Lx", "type": "quantitative", "scale": {"type": "log", "domain": [1.1e40, 1.88e45]}, "axis": null},
            "y": {"field": "LIR", "type": "quantitative", "scale": {"type": "log", "domain": [2.0e9, 2.07e14]}, "axis": null},
            "text": {"field": "t"}
          }
        }
      ]
    }
  ]
}
